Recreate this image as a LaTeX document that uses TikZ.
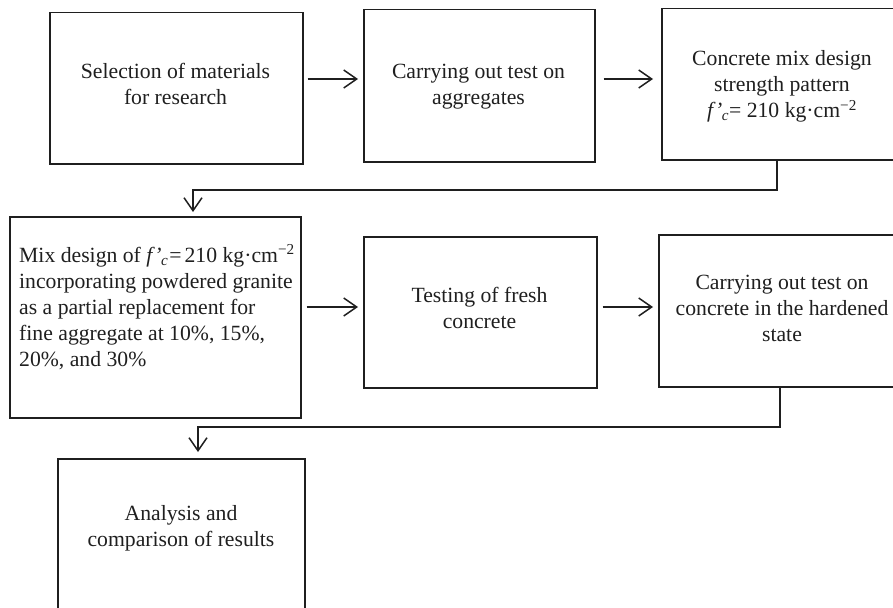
\documentclass[tikz,border=0pt]{standalone}
\usepackage{fontspec}
\setmainfont{Liberation Serif}
\usetikzlibrary{arrows.meta}
\newcommand{\fcprime}{\textit{f’}\kern-0.5pt\textsubscript{\textit{c}}}
\begin{document}
\begin{tikzpicture}[x=1pt,y=-1pt,
  box/.style={draw=black!88, line width=1.5pt, rectangle, inner sep=0pt,
    anchor=north west},
  txt/.style={inner sep=0pt, align=center, text=black!88,
    font=\fontsize{21.7}{26}\selectfont},
  arr/.style={draw=black!88, line width=1.5pt,
    -{Straight Barb[length=13pt,width=18pt,line width=1.5pt]}}]
\useasboundingbox (0,0) rectangle (893,607);
\clip (0,0) rectangle (893,607);
% boxes
\node[box, minimum width=253pt, minimum height=151pt] (A) at (49,12) {};
\node[box, minimum width=231pt, minimum height=152pt] (B) at (363,9) {};
\node[box, minimum width=242pt, minimum height=151pt] (C) at (661,8) {};
\node[box, minimum width=291pt, minimum height=201pt] (D) at (9,216) {};
\node[box, minimum width=233pt, minimum height=151pt] (E) at (363,236) {};
\node[box, minimum width=248pt, minimum height=152pt] (F) at (658,234) {};
\node[box, minimum width=247pt, minimum height=152pt] (G) at (57,458) {};
% texts
\node[txt] (tA) at (175.5,84) {Selection of materials\\for research};
\node[txt] (tB) at (478.5,86.5) {Carrying out test on\\aggregates};
\node[txt] (tC) at (782,86.5) {Concrete mix design\\strength pattern\\\fcprime= 210 kg·cm\textsuperscript{−2}};
\node[txt, align=left, anchor=west] (tD) at (19,307)
  {Mix design of \fcprime\kern1pt=\kern3pt210 kg·cm\textsuperscript{−2}\\incorporating powdered granite\\as a partial replacement for\\fine aggregate at 10\%, 15\%,\\20\%, and 30\%};
\node[txt] (tE) at (479.5,308) {Testing of fresh\\concrete};
\node[txt] (tF) at (782,308) {Carrying out test on\\concrete in the hardened\\state};
\node[txt] (tG) at (181,528.5) {Analysis and\\comparison of results};
% connectors
\coordinate (r1) at (0,79);
\coordinate (r2) at (0,307);
\coordinate (k1) at (777,190);
\coordinate (k2) at (193,190);
\coordinate (k3) at (780,427);
\coordinate (k4) at (198,427);
\draw[arr, shorten <=4pt, shorten >=5pt] (A.east |- r1) -- (B.west |- r1);
\draw[arr, shorten <=8pt, shorten >=8pt] (B.east |- r1) -- (C.west |- r1);
\draw[arr, shorten <=5pt, shorten >=5pt] (D.east |- r2) -- (E.west |- r2);
\draw[arr, shorten <=5pt, shorten >=5pt] (E.east |- r2) -- (F.west |- r2);
\draw[arr, shorten >=4pt] (C.south -| k1) -- (k1) -- (k2) -- (D.north -| k2);
\draw[arr, shorten >=6pt] (F.south -| k3) -- (k3) -- (k4) -- (G.north -| k4);
\end{tikzpicture}
\end{document}
